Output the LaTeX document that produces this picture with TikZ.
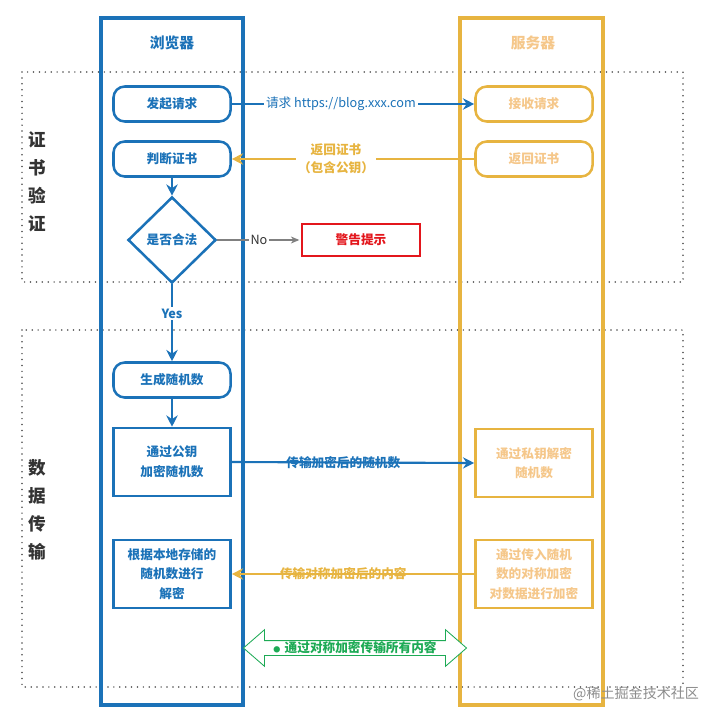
\documentclass[tikz,border=0pt]{standalone}
\usepackage{fontspec}
\setmainfont{Noto Sans CJK SC}
\usetikzlibrary{arrows.meta,shapes.geometric,shapes.arrows}
\definecolor{laneblue}{HTML}{1B72B8}
\definecolor{servgold}{HTML}{E7B440}
\definecolor{servtext}{HTML}{F5C78A}
\definecolor{warnred}{HTML}{E3161C}
\definecolor{okgreen}{HTML}{1DAA55}

\begin{document}
\begin{tikzpicture}[x=0.025cm, y=-0.025cm,
    lane/.style={line width=2.2pt},
    secbox/.style={line width=1.2pt, dash pattern=on 0pt off 4.2pt, line cap=round, black!70},
    steptext/.style={font=\bfseries\fontsize{9}{14}\selectfont, align=center, inner sep=0pt},
    roundbox/.style={steptext, draw, line width=1.8pt, rounded corners=8pt, minimum width=2.925cm, minimum height=0.875cm},
    squarebox/.style={steptext, draw, line width=1.8pt, minimum width=2.925cm, minimum height=1.7cm},
    cli/.style={draw=laneblue, text=laneblue},
    srv/.style={draw=servgold, text=servtext},
    flow/.style={line width=1.5pt, -{Stealth[length=8pt,width=8pt]}},
    flowlabel/.style={font=\bfseries\fontsize{9}{13}\selectfont, align=center, inner sep=1.5pt},
    sectitle/.style={font=\bfseries\fontsize{12.5}{20}\selectfont, align=center, text=black!80}]
  \useasboundingbox (0,0) rectangle (715,723);
  % sections
  \draw[secbox] (22,72) rectangle (683,282);
  \draw[secbox] (22,330) rectangle (683,687);
  \node[sectitle] (certtitle) at (37,182) {证\\书\\验\\证};
  \node[sectitle] (datatitle) at (37,510) {数\\据\\传\\输};
  % lanes
  \draw[lane, laneblue] (101,18) rectangle (243,705);
  \draw[lane, servgold] (460,18) rectangle (603,705);
  \node[font=\bfseries\fontsize{10.5}{13}\selectfont, text=laneblue] (clititle) at (172,43) {浏览器};
  \node[font=\bfseries\fontsize{10.5}{13}\selectfont, text=servtext] (srvtitle) at (533,43) {服务器};
  % browser steps
  \node[roundbox, cli] (req) at (172,104) {发起请求};
  \node[roundbox, cli] (check) at (172,159) {判断证书};
  \node[diamond, steptext, cli, draw, line width=1.8pt, aspect=1, minimum width=2.2cm, minimum height=2.15cm] (valid) at (172,240) {是否合法};
  \node[steptext, draw=warnred, text=warnred, line width=1.8pt, minimum width=2.95cm, minimum height=0.8cm] (warn) at (361,240) {警告提示};
  \node[roundbox, cli] (rand) at (172,380) {生成随机数};
  \node[squarebox, cli] (enc) at (172,462) {通过公钥\\加密随机数};
  \node[squarebox, cli] (dec) at (172,574) {根据本地存储的\\随机数进行\\解密};
  % server steps
  \node[roundbox, srv] (recv) at (534,104) {接收请求};
  \node[roundbox, srv] (cert) at (534,159) {返回证书};
  \node[squarebox, srv] (sdec) at (534,463) {通过私钥解密\\随机数};
  \node[squarebox, srv] (senc) at (534,574) {通过传入随机\\数的对称加密\\对数据进行加密};
  % connectors
  \draw[flow, laneblue] (req) -- node[flowlabel, font=\fontsize{9}{13}\selectfont, fill=white, text=laneblue, pos=0.45] {请求 https://blog.xxx.com} (recv);
  \draw[flow, servgold] (cert) -- node[flowlabel, fill=white, text=servgold, pos=0.57] {返回证书\\（包含公钥）} (check);
  \draw[flow, laneblue] (check) -- (valid);
  \draw[gray, line width=0.8pt, -{Stealth[length=6pt,width=5pt]}, shorten >=1pt] (valid) -- node[fill=white, font=\fontsize{9}{11}\selectfont, text=black!80, inner sep=1pt, pos=0.5] {No} (warn);
  \draw[flow, laneblue] (valid) -- node[flowlabel, fill=white, text=laneblue, pos=0.38] {Yes} (rand);
  \draw[flow, laneblue] (rand) -- (enc);
  \draw[flow, laneblue] (enc.east) -- node[flowlabel, text=laneblue, pos=0.46] {传输加密后的随机数} (sdec.west);
  \draw[flow, servgold] (senc) -- node[flowlabel, text=servgold, pos=0.54] {传输对称加密后的内容} (dec);
  \node[double arrow, draw=okgreen, fill=white, line width=0.6pt, text=okgreen, font=\bfseries\fontsize{9}{11}\selectfont, minimum height=5.575cm, inner xsep=2pt, inner ysep=0.6pt, double arrow head extend=0.27cm, double arrow tip angle=82] (sym) at (355,648) {\raisebox{0.5pt}{\fontsize{5}{5}\selectfont ●}\hspace{3pt}通过对称加密传输所有内容};
  \node[font=\fontsize{10}{12}\selectfont, text=black!45, anchor=east] (mark) at (704,694) {@稀土掘金技术社区};
\end{tikzpicture}
\end{document}
